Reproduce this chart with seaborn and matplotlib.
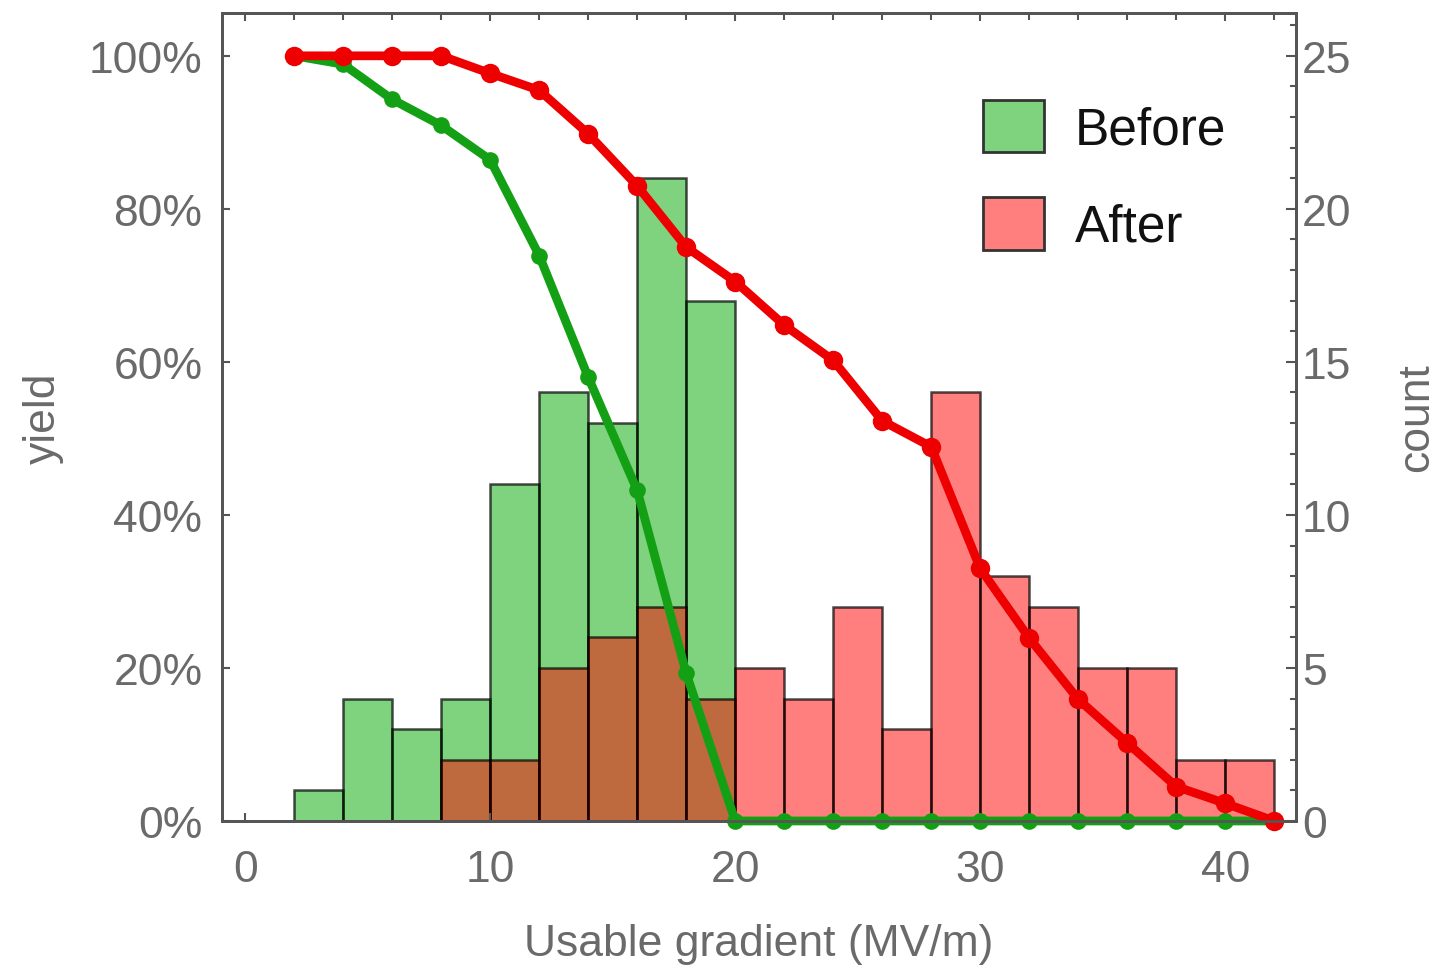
import matplotlib
matplotlib.use('Agg')
import matplotlib.pyplot as plt
import matplotlib.patches as mpatches
from matplotlib.ticker import MultipleLocator, PercentFormatter
import numpy as np
import pandas as pd
import seaborn as sns

sns.set_style('ticks')
plt.rcParams['font.family'] = ['Liberation Sans', 'DejaVu Sans']

# histogram: counts per 2 MV/m bin, bins from 2 to 42
bin_centers = list(range(3, 43, 2))
count_before = [1, 4, 3, 4, 11, 14, 13, 21, 17, 0, 0, 0, 0, 0, 0, 0, 0, 0, 0, 0]
count_after = [0, 0, 0, 2, 2, 5, 6, 7, 4, 5, 4, 7, 3, 14, 8, 7, 5, 5, 2, 2]

# yield curves (percent of cavities reaching gradient)
grad = list(range(2, 44, 2))
yield_before = [100, 98.9, 94.3, 90.9, 86.4, 73.9, 58.0, 43.2, 19.3, 0,
                0, 0, 0, 0, 0, 0, 0, 0, 0, 0, 0]
yield_after = [100, 100, 100, 100, 97.7, 95.5, 89.8, 83.0, 75.0, 70.5,
               64.8, 60.2, 52.3, 48.9, 33.0, 23.9, 15.9, 10.2, 4.5, 2.3, 0]

hist_df = pd.DataFrame({'grad': bin_centers, 'before': count_before, 'after': count_after})

green = (0.0, 0.66, 0.0)
red = (1.0, 0.0, 0.0)
gray = '#6a6a6a'
spine = '#555555'
fs = 32

fig = plt.figure(figsize=(14.44, 9.70), dpi=100)
ax = fig.add_axes([0.1537, 0.1526, 0.744, 0.833])
ax2 = ax.twinx()

# bars on the count axis (drawn below the lines)
sns.histplot(data=hist_df, x='grad', weights='before', binwidth=2, binrange=(2, 42),
             color=green, alpha=0.5, edgecolor=(0, 0, 0, 0.7), linewidth=1.8, ax=ax2)
sns.histplot(data=hist_df, x='grad', weights='after', binwidth=2, binrange=(2, 42),
             color=red, alpha=0.5, edgecolor=(0, 0, 0, 0.7), linewidth=1.8, ax=ax2)

ax.set_zorder(ax2.get_zorder() + 1)
ax.patch.set_visible(False)

sns.lineplot(x=grad, y=yield_before, color='#14a014', lw=6.3, marker='o', markersize=12,
             markeredgewidth=0, clip_on=False, ax=ax)
sns.lineplot(x=grad, y=yield_after, color='#ee0000', lw=6.3, marker='o', markersize=14,
             markeredgewidth=0, clip_on=False, ax=ax)

ax.set_xlim(-0.95, 42.9)
ax.set_ylim(0, 105.6)
ax2.set_ylim(0, 26.4)

ax.yaxis.set_major_locator(MultipleLocator(20))
ax.yaxis.set_major_formatter(PercentFormatter(decimals=0))
ax.xaxis.set_major_locator(MultipleLocator(10))
ax.xaxis.set_minor_locator(MultipleLocator(2))
ax2.yaxis.set_major_locator(MultipleLocator(5))
ax2.yaxis.set_minor_locator(MultipleLocator(1))

ax.tick_params(axis='x', which='major', direction='in', top=True, bottom=True, length=6,
               width=1.5, color=spine, labelsize=fs, labelcolor=gray, pad=20)
ax.tick_params(axis='x', which='minor', direction='in', top=True, bottom=False, length=5,
               width=1.5, color=spine)
ax.tick_params(axis='y', direction='in', length=6, width=1.5, color=spine,
               labelsize=fs, labelcolor=gray, pad=14)
ax2.tick_params(axis='y', which='major', direction='in', length=7, width=1.5, color=spine,
                labelsize=fs, labelcolor=gray, pad=4)
ax2.tick_params(axis='y', which='minor', direction='in', length=4, width=1.5, color=spine)

for a in (ax, ax2):
    for s in a.spines.values():
        s.set_visible(True)
        s.set_color(spine)
        s.set_linewidth(2)

ax.set_xlabel('Usable gradient (MV/m)', fontsize=fs, color=gray, labelpad=24)
ax.set_ylabel('yield', fontsize=fs, color=gray, labelpad=18)
ax2.set_ylabel('count', fontsize=fs, color=gray, labelpad=32)

handles = [mpatches.Patch(facecolor=(*green, 0.5), edgecolor='#333333', lw=2, label='Before'),
           mpatches.Patch(facecolor=(*red, 0.5), edgecolor='#333333', lw=2, label='After')]
leg = ax.legend(handles=handles, loc='upper left', bbox_to_anchor=(0.689, 0.918), frameon=False,
                fontsize=37, handlelength=1.2, handleheight=1.2, labelspacing=0.83,
                handletextpad=0.6, borderaxespad=0)
for t in leg.get_texts():
    t.set_color('#111111')

fig.savefig('out.png', dpi=100)
